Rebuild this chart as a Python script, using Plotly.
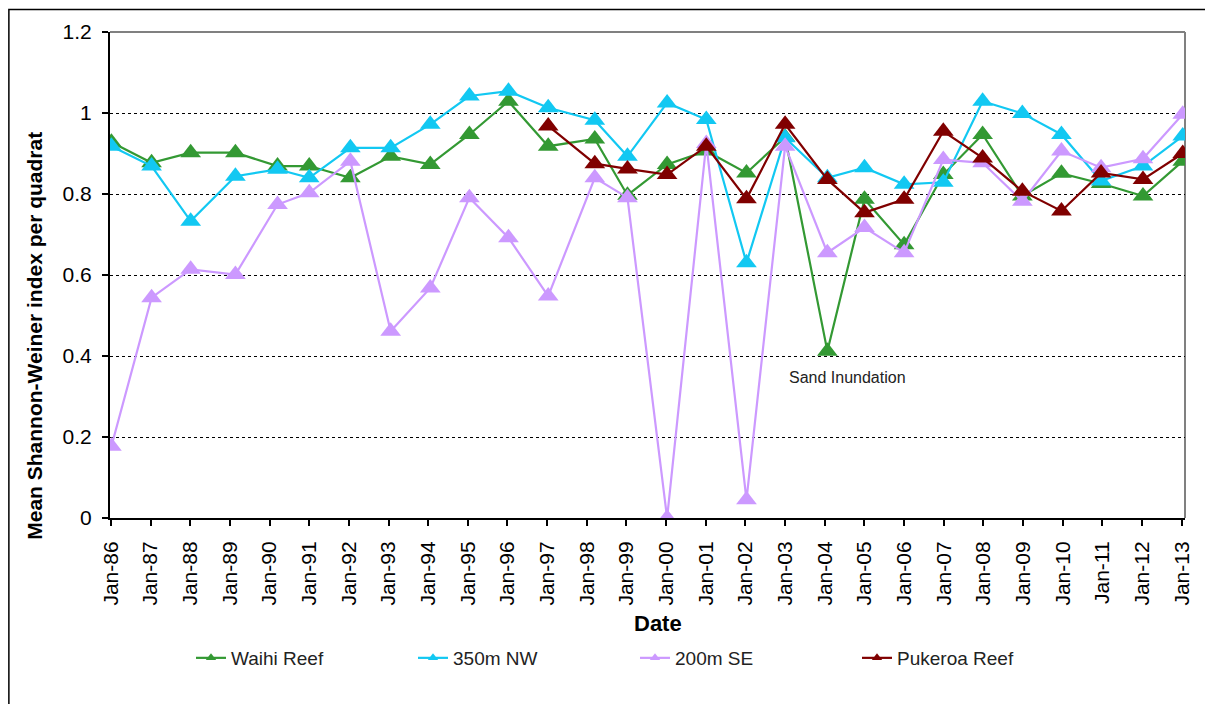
import plotly.graph_objects as go

# Survey dates (one per annual survey)
survey_dates = [
    "1986-01-05", "1987-01-10", "1988-01-05", "1989-02-20", "1990-03-15",
    "1991-01-01", "1992-01-15", "1993-01-20", "1994-01-20", "1995-01-15",
    "1996-01-10", "1997-01-10", "1998-03-15", "1999-01-10", "2000-01-10",
    "2001-01-05", "2002-01-10", "2003-01-01", "2004-01-25", "2005-01-01",
    "2006-01-01", "2006-12-28", "2007-12-25", "2008-12-25", "2009-12-20",
    "2010-12-20", "2012-01-10", "2013-01-10",
]

# Mean Shannon-Weiner index per quadrat, by site
waihi_reef = [0.928, 0.877, 0.902, 0.902, 0.869, 0.869, 0.840, 0.893, 0.873, 0.947,
              1.029, 0.918, 0.936, 0.797, 0.873, 0.906, 0.852, 0.940, 0.412, 0.787,
              0.675, 0.848, 0.947, 0.795, 0.851, 0.826, 0.795, 0.881]
nw_350m = [0.918, 0.869, 0.733, 0.844, 0.861, 0.840, 0.914, 0.914, 0.972, 1.042,
           1.054, 1.013, 0.982, 0.893, 1.025, 0.984, 0.630, 0.939, 0.840, 0.865,
           0.824, 0.829, 1.029, 0.999, 0.947, 0.832, 0.869, 0.943]
se_200m = [0.177, 0.544, 0.614, 0.601, 0.774, 0.803, 0.881, 0.461, 0.568, 0.791,
           0.692, 0.548, 0.840, 0.791, 0.000, 0.925, 0.045, 0.918, 0.655, 0.717,
           0.655, 0.885, 0.877, 0.782, 0.906, 0.865, 0.887, 0.997]
pukeroa_reef = [None, None, None, None, None, None, None, None, None, None,
                None, 0.968, 0.875, 0.862, 0.848, 0.918, 0.788, 0.972, 0.836, 0.754,
                0.787, 0.955, 0.889, 0.807, 0.758, 0.852, 0.836, 0.900]

series_names = ["Waihi Reef", "350m NW", "200m SE", "Pukeroa Reef"]
series_colors = ["#339933", "#12C8F2", "#CC99FF", "#800000"]

tick_dates = [f"{y}-01-01" for y in range(1986, 2014)]
tick_labels = ["Jan-86", "Jan-87", "Jan-88", "Jan-89", "Jan-90", "Jan-91", "Jan-92",
               "Jan-93", "Jan-94", "Jan-95", "Jan-96", "Jan-97", "Jan-98", "Jan-99",
               "Jan-00", "Jan-01", "Jan-02", "Jan-03", "Jan-04", "Jan-05", "Jan-06",
               "Jan-07", "Jan-08", "Jan-09", "Jan-10", "Jan-11", "Jan-12", "Jan-13"]
y_ticks = [0, 0.2, 0.4, 0.6, 0.8, 1.0, 1.2]
y_tick_labels = ["0", "0.2", "0.4", "0.6", "0.8", "1", "1.2"]

FONT = "Liberation Sans, Arial, sans-serif"

fig = go.Figure()

for name, color, values in zip(series_names, series_colors,
                               [waihi_reef, nw_350m, se_200m, pukeroa_reef]):
    fig.add_trace(go.Scatter(
        x=survey_dates, y=values, name=name, mode="lines+markers",
        line=dict(color=color, width=2.2),
        marker=dict(symbol="triangle-up", size=18, color=color, line=dict(width=0)),
        connectgaps=False, showlegend=False,
    ))

# Legend entries with small markers
for name, color in zip(series_names, series_colors):
    fig.add_trace(go.Scatter(
        x=[None], y=[None], name=name, mode="lines+markers",
        line=dict(color=color, width=2.2),
        marker=dict(symbol="triangle-up", size=9, color=color, line=dict(width=0)),
        showlegend=True,
    ))

fig.update_layout(
    width=1205, height=704,
    margin=dict(l=110, r=16, t=32, b=186),
    paper_bgcolor="white", plot_bgcolor="white",
    font=dict(family=FONT, color="black"),
    showlegend=True,
    legend=dict(
        orientation="h", xref="container", yref="container",
        x=191 / 1205, y=1 - 658 / 704, xanchor="left", yanchor="middle",
        font=dict(size=19, family=FONT, color="#222222"),
        entrywidth=177, entrywidthmode="pixels",
        bgcolor="rgba(0,0,0,0)", tracegroupgap=0,
    ),
    xaxis=dict(
        type="date", range=["1985-12-23", "2013-01-31"],
        tickmode="array", tickvals=tick_dates, ticktext=tick_labels,
        tickangle=-90, tickfont=dict(size=21, family=FONT, color="black"),
        ticks="outside", ticklen=6, tickcolor="black", tickwidth=1.5,
        ticklabelstandoff=7,
        showline=True, linecolor="black", linewidth=2,
        showgrid=False, zeroline=False,
    ),
    yaxis=dict(
        range=[0, 1.2], tickmode="array", tickvals=y_ticks, ticktext=y_tick_labels,
        tickfont=dict(size=21, family=FONT, color="black"),
        ticks="outside", ticklen=6, tickcolor="black", tickwidth=1.5,
        ticklabelstandoff=6,
        showline=True, linecolor="black", linewidth=2,
        showgrid=True, gridcolor="black", gridwidth=1, griddash="dot",
        zeroline=False,
    ),
)

# Plot-area frame (top and right edges) and outer chart border
fig.add_shape(type="line", xref="paper", yref="paper", x0=0, x1=1, y0=1, y1=1,
              line=dict(color="#808080", width=2), layer="below")
fig.add_shape(type="line", xref="paper", yref="paper", x0=1, x1=1, y0=0, y1=1,
              line=dict(color="#808080", width=2), layer="below")
fig.add_shape(type="rect", xref="paper", yref="paper",
              x0=(8.5 - 110) / 1079, x1=(1215 - 110) / 1079,
              y0=(518 - 720) / 486, y1=(518 - 9.5) / 486,
              line=dict(color="black", width=1.5), fillcolor="rgba(0,0,0,0)")

fig.add_annotation(
    text="<b>Mean Shannon-Weiner index per quadrat</b>", textangle=-90,
    xref="paper", yref="paper", x=(33.5 - 110) / 1079, y=(518 - 336) / 486,
    xanchor="center", yanchor="middle", showarrow=False,
    font=dict(size=21, family=FONT, color="black"),
)
fig.add_annotation(
    text="<b>Date</b>", xref="paper", yref="paper",
    x=(660.5 - 110) / 1079, y=(518 - 623) / 486,
    xanchor="center", yanchor="middle", showarrow=False,
    font=dict(size=22, family=FONT, color="black"),
)
fig.add_annotation(
    text="Sand Inundation", x="2004-07-27", y=0.346,
    xanchor="center", yanchor="middle", showarrow=False,
    font=dict(size=16, family=FONT, color="#222222"),
)

fig.write_html("out.html")
